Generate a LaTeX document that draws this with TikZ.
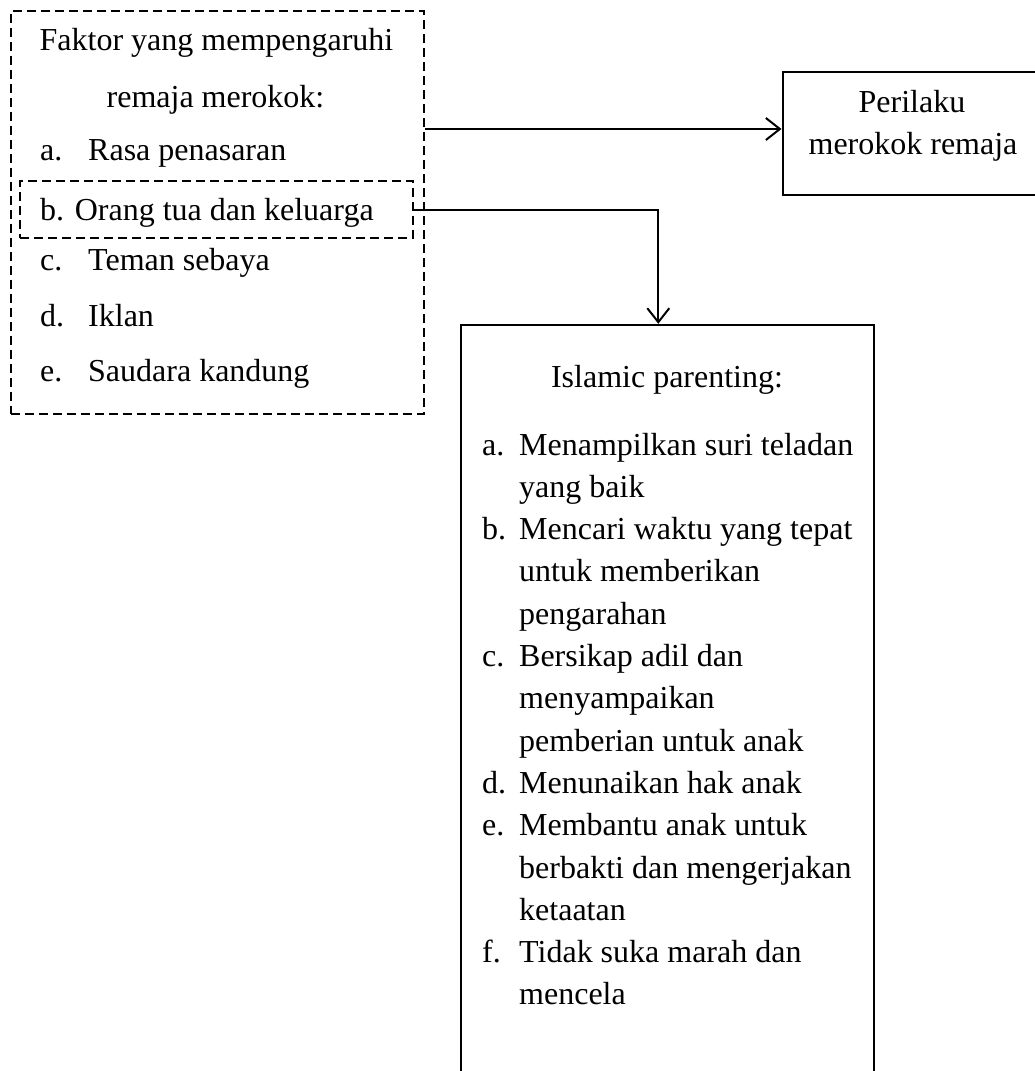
\documentclass[tikz,border=0pt]{standalone}
\usepackage{fontspec}
\setmainfont{Liberation Serif}
\usetikzlibrary{arrows.meta}
\begin{document}
\begin{tikzpicture}[x=1pt,y=-1pt,
  txt/.style={inner sep=0pt, font=\fontsize{32}{38}\selectfont},
  dbox/.style={draw, dash pattern=on 9pt off 5pt, line width=1.8pt, inner sep=0pt},
  sbox/.style={draw, line width=2.4pt, inner sep=0pt},
  arr/.style={line width=2pt, -{Straight Barb[length=14pt,width=22pt]}}]
\useasboundingbox (0,0) rectangle (1035,1071);
\clip (0,0) rectangle (1035,1071);
% boxes
\node[dbox, minimum width=413pt, minimum height=403pt] (outer) at (217.5,212.5) {};
\node[dbox, minimum width=393pt, minimum height=57pt] (inner) at (216.5,209.5) {};
\node[sbox, minimum width=260.3pt, minimum height=123.3pt] (perilaku) at (912.85,133.35) {};
\node[sbox, minimum width=413.3pt, minimum height=775pt] (islam) at (667.35,712.5) {};
% left texts
\node[txt, anchor=base] (f1) at (216.5,50) {Faktor yang mempengaruhi};
\node[txt, anchor=base] (f2) at (215.5,107) {remaja merokok:};
\node[txt, anchor=base west] (fa) at (40,160.5) {\makebox[48pt][l]{a.}Rasa penasaran};
\node[txt, anchor=base west] (fb) at (40,220) {b. Orang tua dan keluarga};
\node[txt, anchor=base west] (fc) at (40,270.5) {\makebox[48pt][l]{c.}Teman sebaya};
\node[txt, anchor=base west] (fd) at (40,326) {\makebox[48pt][l]{d.}Iklan};
\node[txt, anchor=base west] (fe) at (40,381) {\makebox[48pt][l]{e.}Saudara kandung};
% perilaku texts
\node[txt, anchor=base] (p1) at (912,112) {Perilaku};
\node[txt, anchor=base] (p2) at (913,154) {merokok remaja};
% islamic texts
\node[txt, anchor=base] (i0) at (667,387) {Islamic parenting:};
\node[txt, anchor=base west] (i1) at (482,455) {\makebox[37pt][l]{a.}Menampilkan suri teladan};
\node[txt, anchor=base west] (i2) at (519,497.3) {yang baik};
\node[txt, anchor=base west] (i3) at (482,539.6) {\makebox[37pt][l]{b.}Mencari waktu yang tepat};
\node[txt, anchor=base west] (i4) at (519,581.9) {untuk memberikan};
\node[txt, anchor=base west] (i5) at (519,624.2) {pengarahan};
\node[txt, anchor=base west] (i6) at (482,666.5) {\makebox[37pt][l]{c.}Bersikap adil dan};
\node[txt, anchor=base west] (i7) at (519,708.8) {menyampaikan};
\node[txt, anchor=base west] (i8) at (519,751.1) {pemberian untuk anak};
\node[txt, anchor=base west] (i9) at (482,793.4) {\makebox[37pt][l]{d.}Menunaikan hak anak};
\node[txt, anchor=base west] (i10) at (482,835.7) {\makebox[37pt][l]{e.}Membantu anak untuk};
\node[txt, anchor=base west] (i11) at (519,878) {berbakti dan mengerjakan};
\node[txt, anchor=base west] (i12) at (519,920.3) {ketaatan};
\node[txt, anchor=base west] (i13) at (482,962.6) {\makebox[37pt][l]{f.}Tidak suka marah dan};
\node[txt, anchor=base west] (i14) at (519,1004.9) {mencela};
% connectors
\coordinate (a1y) at (0,129);
\coordinate (a2x) at (658.3,0);
\draw[arr] (outer.east |- a1y) -- (perilaku.west |- a1y);
\draw[arr] (inner.east) -| (islam.north -| a2x);
\end{tikzpicture}
\end{document}
